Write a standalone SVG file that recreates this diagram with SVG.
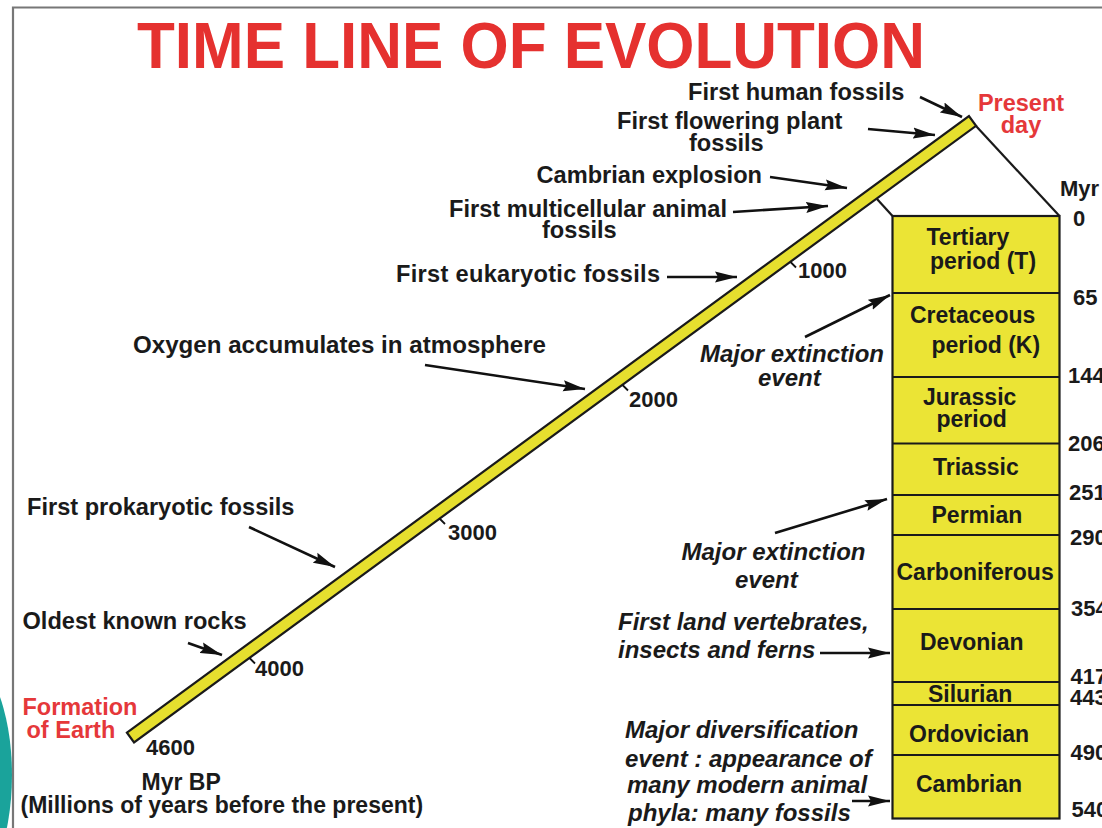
<svg xmlns="http://www.w3.org/2000/svg" width="1102" height="828" viewBox="0 0 1102 828">
<defs>
<style>
.lbl{font-family:"Liberation Sans",Arial,sans-serif;font-weight:bold;font-size:23px;fill:#1a1a1a}
.lbl2{font-family:"Liberation Sans",Arial,sans-serif;font-weight:bold;font-size:23.6px;fill:#1a1a1a}
.it{font-family:"Liberation Sans",Arial,sans-serif;font-weight:bold;font-style:italic;font-size:24px;fill:#1a1a1a}
.num{font-family:"Liberation Sans",Arial,sans-serif;font-weight:bold;font-size:22px;fill:#1a1a1a}
.red{font-family:"Liberation Sans",Arial,sans-serif;font-weight:bold;font-size:23.5px;fill:#e5383a}
.per{font-family:"Liberation Sans",Arial,sans-serif;font-weight:bold;font-size:23px;fill:#1a1a1a}
.cell{fill:#ebe435;stroke:#1a1a1a;stroke-width:2.2}
.div{stroke:#1a1a1a;stroke-width:2.2}
.arr{stroke:#111;stroke-width:2.6;fill:none;marker-end:url(#ah)}
.tick{stroke:#111;stroke-width:1.8;fill:none}
.roof{stroke:#1a1a1a;stroke-width:2.2;fill:none}
</style>
<marker id="ah" markerUnits="userSpaceOnUse" markerWidth="24" markerHeight="12" refX="22" refY="6" orient="auto">
<path d="M0,0.5 L22,6 L0,11.5 L3,6 z" fill="#111"/>
</marker>
</defs>
<rect x="0" y="0" width="1102" height="828" fill="#ffffff"/>
<ellipse id="teal-shape" cx="-40" cy="775" rx="52" ry="122" fill="#1aa39b"/>
<path id="frame" d="M13,828 V7.5 H1102" fill="none" stroke="#777" stroke-width="2.2"/>

<g id="title">
<text x="137" y="68" font-family="Liberation Sans,Arial,sans-serif" font-weight="bold" font-size="65" fill="#e5312f" textLength="788" lengthAdjust="spacingAndGlyphs">TIME LINE OF EVOLUTION</text>
</g>

<g id="timeline-bar">
<polygon points="126.95,732.66 968.95,116.16 976.05,125.84 134.05,742.34" fill="#e6df2e" stroke="#1a1a1a" stroke-width="2.2"/>
<path class="tick" d="M790.5,262 L796,267.5"/>
<path class="tick" d="M622.5,385 L628,390.5"/>
<path class="tick" d="M439.5,518.5 L445,524"/>
<path class="tick" d="M249.5,658 L255,663.5"/>
<text class="num" x="798" y="278">1000</text>
<text class="num" x="629" y="407">2000</text>
<text class="num" x="448" y="540">3000</text>
<text class="num" x="255" y="676">4000</text>
<text class="num" x="146" y="755">4600</text>
</g>

<g id="roof">
<path class="roof" d="M877,199 L892.5,216"/>
<path class="roof" d="M976,126 L1059.5,216"/>
</g>

<g id="column">
<rect class="cell" x="892.5" y="216" width="167" height="602.5"/>
<path class="div" d="M892.5,293 H1059.5 M892.5,377 H1059.5 M892.5,443.5 H1059.5 M892.5,495 H1059.5 M892.5,535 H1059.5 M892.5,609 H1059.5 M892.5,682 H1059.5 M892.5,705 H1059.5 M892.5,755 H1059.5"/>
</g>

<g id="tertiary"><text class="per" font-size="24" x="926.5" y="245">Tertiary</text><text class="per" font-size="24" x="930" y="269">period (T)</text></g>
<g id="cretaceous"><text class="per" font-size="24" x="910" y="323">Cretaceous</text><text class="per" font-size="24" x="931.5" y="353">period (K)</text></g>
<g id="jurassic"><text class="per" x="923" y="405">Jurassic</text><text class="per" x="936.5" y="427">period</text></g>
<g id="triassic"><text class="per" x="933" y="475">Triassic</text></g>
<g id="permian"><text class="per" x="931.5" y="522.5">Permian</text></g>
<g id="carboniferous"><text class="per" x="896.5" y="580">Carboniferous</text></g>
<g id="devonian"><text class="per" x="920" y="650">Devonian</text></g>
<g id="silurian"><text class="per" x="928" y="701.5">Silurian</text></g>
<g id="ordovician"><text class="per" x="909" y="741.5">Ordovician</text></g>
<g id="cambrian"><text class="per" x="916" y="792">Cambrian</text></g>

<g id="scale-numbers">
<text class="num" x="1060" y="196">Myr</text>
<text class="num" x="1073" y="226">0</text>
<text class="num" x="1073" y="305">65</text>
<text class="num" x="1068" y="383">144</text>
<text class="num" x="1068" y="451">206</text>
<text class="num" x="1069" y="500">251</text>
<text class="num" x="1070" y="545">290</text>
<text class="num" x="1071" y="616">354</text>
<text class="num" x="1070.5" y="684">417</text>
<text class="num" x="1070" y="705">443</text>
<text class="num" x="1070.5" y="760">490</text>
<text class="num" x="1071.5" y="817">540</text>
</g>

<g id="present-day"><text class="red" x="1021" y="110.5" text-anchor="middle">Present</text><text class="red" x="1021" y="133" text-anchor="middle">day</text></g>
<g id="formation-of-earth"><text class="red" x="22.5" y="715">Formation</text><text class="red" x="26.5" y="737.5">of Earth</text></g>
<g id="myr-bp"><text class="lbl" x="141.5" y="790">Myr BP</text><text class="lbl" x="20.5" y="813">(Millions of years before the present)</text></g>

<g id="first-human"><text class="lbl2" x="688" y="99.5">First human fossils</text></g>
<g id="first-flowering"><text class="lbl2" x="617" y="128.5">First flowering plant</text><text class="lbl2" x="689" y="151">fossils</text></g>
<g id="cambrian-explosion"><text class="lbl2" x="536.5" y="182.5">Cambrian explosion</text></g>
<g id="first-multicellular"><text class="lbl2" x="449" y="217">First multicellular animal</text><text class="lbl2" x="542" y="238">fossils</text></g>
<g id="first-eukaryotic"><text class="lbl2" x="396" y="281.5" textLength="264" lengthAdjust="spacing">First eukaryotic fossils</text></g>
<g id="oxygen"><text class="lbl2" x="133" y="353" textLength="413" lengthAdjust="spacingAndGlyphs">Oxygen accumulates in atmosphere</text></g>
<g id="first-prokaryotic"><text class="lbl2" x="27" y="515">First prokaryotic fossils</text></g>
<g id="oldest-rocks"><text class="lbl2" x="22.5" y="629">Oldest known rocks</text></g>

<g id="extinction-1"><text class="it" x="700" y="362">Major extinction</text><text class="it" x="758" y="386">event</text></g>
<g id="extinction-2"><text class="it" x="681.5" y="560">Major extinction</text><text class="it" x="735" y="588">event</text></g>
<g id="land-vertebrates"><text class="it" x="618" y="630">First land vertebrates,</text><text class="it" x="618" y="658">insects and ferns</text></g>
<g id="diversification"><text class="it" x="625" y="738">Major diversification</text><text class="it" x="625" y="766.5">event : appearance of</text><text class="it" x="627" y="793">many modern animal</text><text class="it" x="628" y="821">phyla: many fossils</text></g>

<g id="connectors">
<path class="arr" d="M920,97 L962,117"/>
<path class="arr" d="M868,129 L935,135"/>
<path class="arr" d="M770,177 L847,188"/>
<path class="arr" d="M733,212 L828,206"/>
<path class="arr" d="M667,277 L737,277"/>
<path class="arr" d="M425,365 L585,389"/>
<path class="arr" d="M249,527 L335,567"/>
<path class="arr" d="M188,643 L222,655"/>
<path class="arr" d="M805,337 L890,295"/>
<path class="arr" d="M775,533 L887,499"/>
<path class="arr" d="M820,653 L890,653"/>
<path class="arr" d="M852,801 L890,801"/>
</g>
</svg>
